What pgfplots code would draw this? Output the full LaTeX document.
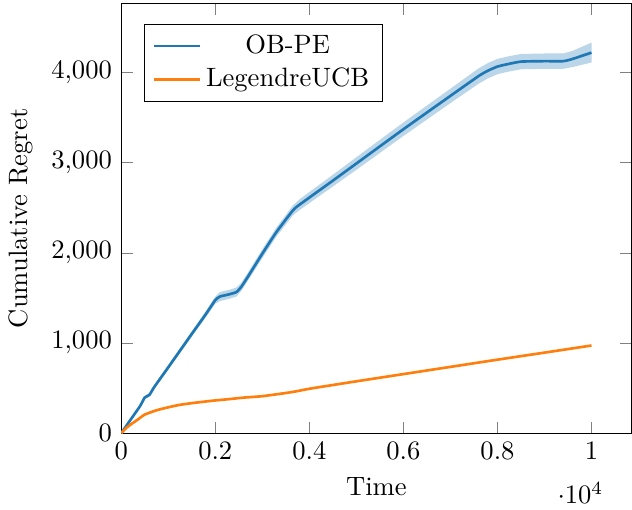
\documentclass[border=0pt]{standalone}
\usepackage{pgfplots}
\usepackage{pgfplotstable}
\pgfplotsset{compat=1.18}
\usepgfplotslibrary{fillbetween}
\definecolor{tabblue}{HTML}{1F77B4}
\definecolor{taborange}{HTML}{FF7F0E}
\pgfplotstableread{
t mean lo hi
0 0 0 0
200 150 140 160
400 300 285 315
500 395 378 412
600 425 405 445
700 510 490 530
1000 730 705 755
1500 1100 1070 1130
1800 1320 1285 1355
2000 1475 1435 1515
2100 1515 1465 1565
2300 1540 1490 1590
2450 1565 1515 1615
2550 1620 1575 1665
2700 1740 1695 1785
3000 1990 1940 2040
3300 2230 2180 2280
3650 2470 2415 2525
3800 2537 2477 2597
4500 2800 2735 2865
5000 2990 2920 3060
6000 3370 3295 3445
7000 3740 3660 3820
7600 3960 3875 4045
7800 4020 3935 4105
8000 4065 3980 4150
8200 4090 4005 4175
8500 4120 4035 4205
9000 4125 4040 4210
9400 4125 4040 4210
9600 4150 4060 4240
10000 4220 4110 4330
}\obpe
\pgfplotstableread{
t y
0 0
100 55
212 100
350 150
495 205
700 245
850 268
1200 310
1500 333
1910 358
2300 378
2620 395
3000 410
3470 443
3700 462
4030 495
5000 575
6000 655
7000 735
8000 815
9000 893
10000 972
}\legucb
\begin{document}
\begin{tikzpicture}
\begin{axis}[
  scale only axis,
  width=192pt, height=161.7pt,
  xmin=0, xmax=10850,
  ymin=0, ymax=4765,
  xlabel={Time},
  ylabel={Cumulative Regret},
  ytick={0,1000,2000,3000,4000},
  legend cell align=center,
  legend style={at={(0.045,0.953)},anchor=north west},
]
\addplot[name path=up, draw=none, forget plot] table[x=t,y=hi] {\obpe};
\addplot[name path=dn, draw=none, forget plot] table[x=t,y=lo] {\obpe};
\addplot[tabblue, fill opacity=0.3, forget plot] fill between[of=up and dn];
\addplot[tabblue, line width=1pt, smooth, tension=0.3] table[x=t,y=mean] {\obpe};
\addlegendentry{OB-PE}
\addplot[taborange, line width=1pt, smooth, tension=0.3] table[x=t,y=y] {\legucb};
\addlegendentry{LegendreUCB}
\end{axis}
\path ([yshift=1.3pt]current axis.north) ++(0,0);
\path ([yshift=-1.5pt]current bounding box.south) ++(0,0);
\end{tikzpicture}
\end{document}
